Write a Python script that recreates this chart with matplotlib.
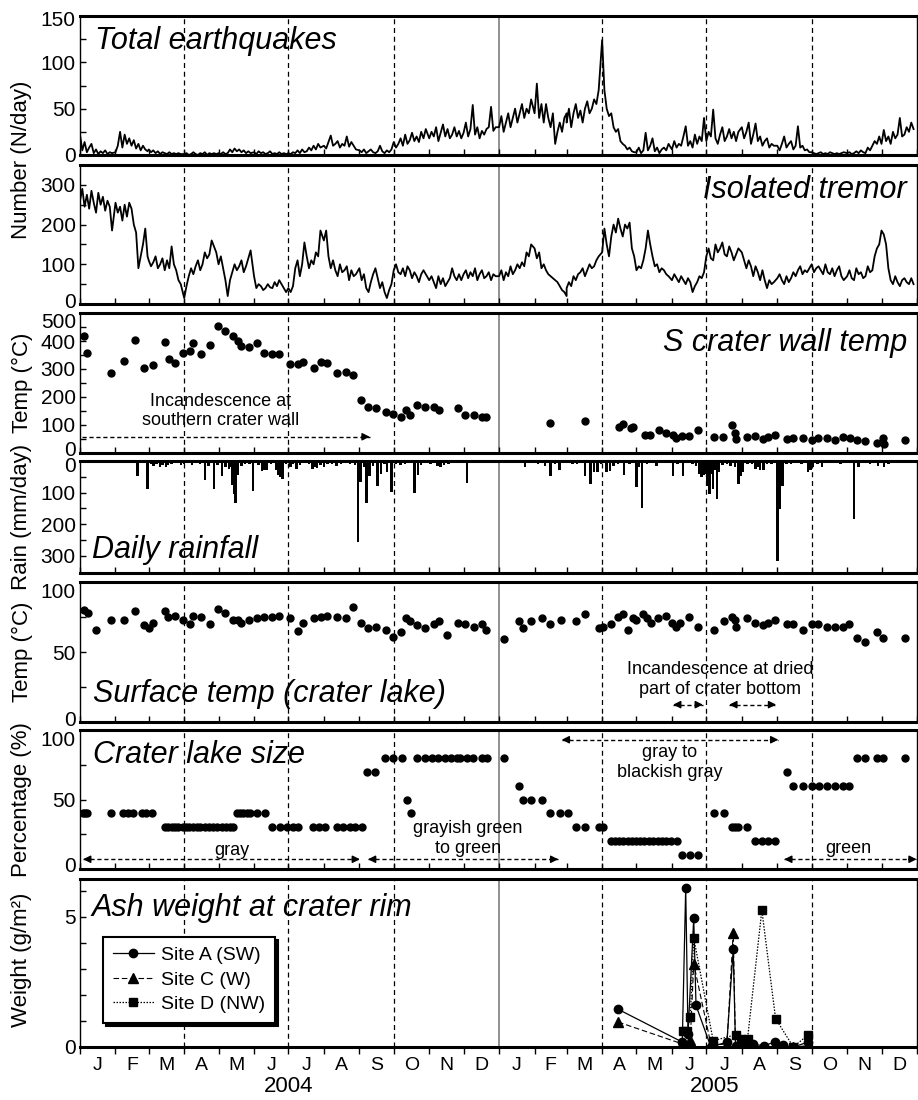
import numpy as np
import pandas as pd
import matplotlib
matplotlib.use('Agg')
import matplotlib.pyplot as plt
import matplotlib.transforms as mtransforms
from matplotlib.ticker import MultipleLocator, FixedLocator, FuncFormatter, NullFormatter

plt.rcParams['font.family'] = ['Liberation Sans', 'DejaVu Sans']

# ---------------- data (x values are days since 2004-01-01) ----------------
# Total earthquakes (N/day), 15 readings per month (every 2 days), Jan 2004 .. Dec 2005
eq_counts = [
    22, 5, 14, 3, 8, 12, 2, 6, 1, 4, 2, 5, 1, 3, 2,              # Jan 2004
    3, 10, 25, 8, 22, 12, 18, 10, 16, 7, 12, 5, 10, 6, 4,        # Feb
    6, 3, 5, 2, 4, 1, 3, 2, 1, 3, 1, 2, 1, 2, 1,                 # Mar
    1, 2, 0, 1, 3, 1, 0, 2, 1, 3, 0, 2, 1, 2, 1,                 # Apr
    2, 1, 3, 1, 2, 6, 3, 7, 4, 6, 3, 5, 2, 4, 2,                 # May
    3, 1, 4, 2, 3, 1, 2, 4, 1, 2, 1, 3, 1, 2, 1,                 # Jun
    2, 1, 3, 2, 5, 2, 6, 3, 4, 8, 5, 10, 6, 12, 8,               # Jul
    10, 7, 14, 21, 10, 12, 15, 8, 12, 10, 20, 9, 14, 10, 6,      # Aug
    5, 3, 6, 2, 4, 6, 3, 2, 4, 10, 4, 2, 5, 3, 6,                # Sep
    14, 8, 12, 18, 10, 22, 12, 16, 24, 15, 20, 14, 25, 18, 28,   # Oct
    18, 25, 20, 30, 15, 24, 33, 20, 28, 18, 22, 30, 20, 26, 18,  # Nov
    24, 35, 20, 28, 54, 22, 30, 18, 26, 22, 28, 30, 52, 26, 30,  # Dec
    30, 42, 25, 35, 45, 30, 40, 50, 35, 45, 55, 40, 50, 45, 60,  # Jan 2005
    45, 77, 40, 55, 35, 55, 40, 30, 45, 12, 25, 35, 25, 40, 45,  # Feb
    35, 50, 30, 45, 55, 40, 48, 35, 50, 58, 45, 50, 60, 55, 70,  # Mar
    124, 70, 50, 42, 45, 30, 25, 28, 15, 12, 10, 6, 8, 4, 3,     # Apr
    3, 8, 2, 5, 24, 5, 10, 18, 4, 8, 2, 6, 8, 5, 12,             # May
    6, 15, 8, 12, 10, 20, 31, 10, 15, 8, 22, 12, 20, 15, 40,     # Jun
    15, 25, 20, 49, 18, 12, 22, 30, 15, 20, 28, 18, 25, 15, 25,  # Jul
    30, 18, 25, 35, 12, 22, 34, 15, 20, 10, 15, 18, 8, 12, 10,   # Aug
    10, 5, 12, 20, 8, 12, 15, 6, 10, 31, 8, 10, 5, 6, 3,         # Sep
    3, 2, 1, 2, 3, 1, 2, 1, 3, 2, 1, 2, 1, 2, 3,                 # Oct
    2, 3, 1, 2, 4, 2, 5, 3, 2, 8, 5, 10, 15, 12, 20,             # Nov
    12, 27, 15, 20, 12, 25, 18, 22, 40, 20, 22, 30, 25, 35, 28,  # Dec
]

# Isolated tremor (N/day), same sampling
tremor_counts = [
    260, 290, 245, 275, 240, 285, 255, 230, 280, 250, 270, 235, 260, 245, 185,   # Jan 2004
    255, 230, 245, 210, 250, 220, 255, 240, 200, 180, 90, 120, 150, 190, 120,    # Feb
    110, 95, 105, 120, 90, 100, 115, 85, 110, 90, 145, 100, 85, 60, 50,          # Mar
    15, 45, 70, 90, 75, 95, 110, 85, 100, 130, 115, 125, 160, 145, 130,          # Apr
    100, 120, 90, 60, 20, 60, 80, 100, 85, 95, 110, 80, 95, 115, 135,            # May
    70, 40, 50, 45, 35, 40, 50, 42, 40, 55, 45, 60, 50, 40, 30,                  # Jun
    40, 30, 45, 90, 110, 70, 100, 155, 120, 90, 110, 100, 130, 120, 185,         # Jul
    160, 185, 120, 90, 110, 85, 70, 100, 80, 85, 95, 60, 85, 70, 75,             # Aug
    90, 60, 75, 40, 30, 55, 75, 90, 65, 40, 55, 30, 15, 35, 50,                  # Sep
    85, 100, 80, 75, 90, 70, 95, 85, 65, 80, 70, 55, 75, 85, 75,                 # Oct
    60, 70, 55, 40, 70, 50, 65, 45, 55, 65, 90, 70, 60, 75, 60,                  # Nov
    75, 85, 65, 80, 70, 90, 60, 75, 85, 65, 70, 80, 60, 75, 70,                  # Dec
    70, 85, 60, 80, 70, 95, 75, 85, 100, 90, 105, 95, 130, 120, 150,             # Jan 2005
    140, 115, 130, 90, 100, 85, 75, 70, 65, 60, 55, 45, 35, 30, 20,              # Feb
    40, 55, 45, 70, 60, 75, 80, 90, 70, 85, 100, 90, 95, 110, 120,               # Mar
    130, 190, 150, 120, 170, 200, 180, 215, 190, 170, 200, 190, 205, 140, 120,   # Apr
    85, 95, 90, 110, 140, 185, 150, 120, 95, 100, 80, 90, 85, 75, 70,            # May
    60, 75, 65, 55, 70, 60, 50, 65, 55, 30, 45, 55, 70, 65, 80,                  # Jun
    120, 140, 115, 110, 150, 130, 140, 155, 125, 120, 145, 130, 110, 125, 140,   # Jul
    130, 110, 90, 110, 95, 70, 95, 80, 60, 85, 60, 40, 60, 50, 55,               # Aug
    65, 75, 60, 50, 70, 55, 65, 80, 70, 85, 95, 75, 85, 80, 90,                  # Sep
    100, 80, 90, 95, 85, 75, 100, 80, 75, 90, 70, 85, 95, 70, 60,                # Oct
    70, 85, 65, 60, 90, 75, 80, 65, 70, 95, 80, 85, 120, 140, 150,               # Nov
    185, 175, 150, 90, 60, 50, 70, 55, 45, 60, 65, 55, 50, 65, 50,               # Dec
]

# S crater wall temperature
wall_day = [3.5, 6.4, 26.8, 38.7, 47.8, 55.6, 63.8, 74.6, 77.8, 82.7, 89.7, 96.1, 98.4, 106,
            113.3, 120.4, 127, 134, 137.8, 141, 148, 154.3, 161, 167.7, 174.1, 183.4, 190, 195,
            204.4, 210.7, 216, 224.8, 232, 238, 245.1, 251.8, 258.2, 267.3, 273.7, 280.6, 285,
            288, 294.4, 301.7, 309, 313.8, 329.8, 336, 344, 351.4, 355, 410.5, 441, 471, 474,
            481, 483, 493.4, 497.8, 506, 511.8, 517.6, 520.5, 525.5, 532.2, 540, 553.7, 561.9,
            569.2, 572, 572.7, 582.3, 589.5, 596.8, 601, 607, 617.2, 623, 631.7, 639, 644.8,
            652, 659.4, 666.6, 672.5, 678.3, 685.6, 695.8, 701, 702.2, 720.5]
wall_temp = [417, 357, 284, 329, 404, 302, 314, 396, 334, 320, 358, 364, 394, 352,
             387, 452, 434, 419, 401, 383, 377, 393, 357, 355, 355, 317, 319, 325,
             304, 325, 320, 284, 289, 280, 188, 164, 160, 148, 139, 127, 152,
             136, 171, 164, 164, 154, 160, 136, 134, 128, 128, 106, 114, 92, 104,
             88, 92, 64, 66, 82, 70, 64, 54, 61, 61, 82, 58, 58,
             100, 73, 49, 58, 60, 49, 58, 64, 49, 52, 52, 46, 52,
             52, 48, 58, 52, 48, 43, 34, 52, 31, 46]

# Daily rainfall (mm/day)
rain_day = [8, 10, 13, 16, 19, 22, 30, 33, 36, 50, 59, 62, 64, 67, 70, 72, 75, 77, 80, 84, 88,
            91, 94, 98, 102, 105, 109, 112, 117, 120, 124, 127, 130, 132, 133, 135, 136, 138,
            141, 144, 148, 151, 156, 159, 161, 163, 167, 171, 173, 175, 177, 180, 184, 186,
            189, 192, 196, 200, 203, 205, 207, 210, 213, 216, 220, 224, 228, 232, 236, 240,
            242.6, 245, 248, 250, 253, 256, 260, 263, 266, 268, 272, 276, 280, 284, 288, 292,
            295, 298, 302, 306, 312, 315, 318, 322, 326, 330, 338, 342, 348, 355, 360, 366,
            372, 380, 388.7, 395, 400, 406, 411, 415, 419, 425, 430, 434, 437, 441, 446, 449,
            452, 455, 460, 463, 466, 470, 475, 480, 486, 488, 491, 495, 499, 503.6, 508, 512,
            518, 522, 526.8, 530, 535, 538, 541, 542, 543, 544, 545, 546, 547, 548, 550, 551,
            553, 555, 556.5, 558, 561, 565, 568, 572, 575, 577, 579, 583, 587, 590, 592, 594,
            597, 600, 604, 609, 611, 612, 613.5, 617, 621, 626, 630, 636, 638, 640, 644, 648,
            652, 658, 664, 670, 676, 680, 685, 690, 697, 702, 706, 712, 718, 722, 727]
rain_mm = [5, 4, 6, 3, 4, 3, 3, 4, 3, 49, 89, 10, 15, 8, 18, 12, 20, 14, 10, 6, 12,
           8, 5, 14, 6, 8, 61, 15, 89, 12, 47, 20, 25, 18, 77, 105, 134, 43,
           15, 8, 10, 95, 12, 33, 28, 30, 8, 30, 45, 50, 56, 10, 20, 8,
           25, 12, 5, 10, 25, 18, 22, 12, 18, 10, 8, 15, 10, 6, 8, 12,
           257, 67, 20, 134, 48, 15, 80, 40, 10, 35, 98, 8, 12, 10, 5, 102,
           45, 12, 5, 8, 15, 20, 12, 8, 4, 5, 70, 3, 4, 3, 3, 2,
           5, 4, 20, 5, 8, 15, 47, 8, 30, 5, 8, 10, 6, 49, 73, 36,
           36, 10, 34, 31, 15, 10, 45, 8, 81, 20, 150, 10, 5, 16, 6, 5,
           47, 8, 49, 5, 10, 15, 40, 30, 50, 35, 45, 30, 40, 80, 105, 40,
           90, 30, 121, 36, 12, 10, 15, 20, 73, 47, 36, 10, 8, 25, 20, 30,
           28, 10, 8, 318, 153, 47, 80, 10, 8, 5, 8, 36, 30, 20, 10, 20,
           6, 5, 8, 6, 183, 20, 5, 8, 15, 20, 8, 5, 6, 5, 4]

# Surface temperature of crater lake
lake_temp_day = [3.5, 6.6, 13.6, 26.8, 38.7, 47.8, 55.6, 60.6, 63.8, 74.6, 77.2, 82.7, 89.7, 96.1,
                 98.4, 106, 113.3, 120.4, 127, 134, 137.8, 141, 148, 154.3, 161, 167.7, 174.1,
                 183.4, 190, 195, 204.4, 210.7, 216, 224.8, 232, 238, 245.1, 251.8, 258.2, 267.3,
                 273.7, 280.6, 285, 288, 294.4, 301.7, 309, 313.8, 320.8, 329.8, 336, 344, 351.4,
                 355, 370.3, 383.7, 386.6, 393.6, 403.2, 410.5, 419.8, 432.9, 441, 453.6, 456.5,
                 463.8, 470.2, 474, 478.4, 482.7, 485.6, 491.4, 494.9, 498.4, 505, 511.8, 516.7,
                 520.5, 524, 532.2, 540, 553.7, 562.4, 569.2, 572, 572.7, 582.8, 589.5, 596.8,
                 601, 607, 617.2, 623, 631.7, 639, 644.8, 652, 659.4, 666.6, 671.9, 678.3, 685.6,
                 695.8, 701.6, 720.5]
lake_temp = [80, 78, 66, 73, 73, 79, 69, 67, 71, 79, 75, 76, 73, 70,
             76, 75, 70, 81, 78, 73, 73, 71, 73, 74, 75, 75, 76,
             74, 65, 71, 74, 75, 76, 75, 74, 82, 71, 67, 68, 66,
             61, 64, 74, 72, 69, 67, 70, 72, 62, 71, 70, 68, 70,
             66, 59, 72, 67, 72, 74, 70, 73, 72, 77, 67, 68,
             70, 75, 77, 66, 74, 73, 77, 74, 71, 74, 76, 71,
             68, 71, 75, 68, 66, 72, 75, 73, 68, 74, 71, 69,
             71, 73, 70, 70, 66, 70, 70, 68, 68, 68, 70, 60, 57,
             64, 60, 60]

# Crater lake size (%)
lake_size_day = [2.9, 4.5, 5.8, 27, 37.6, 41.9, 46.3, 54, 57.6, 62.9,
                 74, 77, 80, 83, 86, 89.7, 92.5, 95.4, 98.9, 101.8, 104.7, 109, 112.8, 116.3,
                 119.8, 123.6, 127.4, 130.9, 133.8,
                 136.8, 139.7, 142.6, 145.5, 148.4, 154.3, 161.6,
                 167.4, 174.7, 181.1, 186.3, 190.7, 203.8, 209, 214, 224.2, 230, 235.8, 240.2, 246,
                 251, 258, 266.4, 273.7, 281, 285.3, 288.8,
                 294, 301, 307, 313, 319, 324, 329, 331.9, 337.7, 343.5, 350.8, 355.2, 370.6,
                 383.7, 386.6, 393.6, 403.8, 410.5, 419.2, 426.5, 432.9, 441, 453.6, 456.5,
                 463.8, 467.3, 471, 474.5, 478.3, 481.8, 485.6, 489, 492.8, 497.1, 500.6, 505,
                 508.7, 512.2, 516, 521.7, 525.5, 532.8, 540, 553.7, 562.5,
                 569.2, 572, 575, 582.8, 589.5, 595.3, 601.1, 607, 617.2,
                 622.4, 631.7, 639, 645.7, 652.6, 659.4, 666, 671.9,
                 678.3, 685.6, 695.8, 701.6, 720.5]
lake_size_pct = [40] * 10 + [30] * 19 + [40] * 7 + [30] * 13 + [70, 70, 80, 80, 80, 50, 40] + \
                [80] * 13 + [60, 50, 50, 50, 40, 40, 40, 30, 30, 30, 30] + [20] * 16 + \
                [10, 10, 10, 40, 40, 30, 30, 30, 30, 20, 20, 20, 20, 70] + [60] * 8 + [80] * 5

# Ash weight at crater rim (g/m2)
ash_a_day = [470, 526, 529, 531, 536, 538, 551, 565, 570.5, 572.5, 578, 583, 588, 597, 607, 614, 623, 636]
ash_a = [1.45, 0.19, 6.13, 0.5, 4.95, 1.6, 0.0, 0.19, 3.75, 0.02, 0.02, 0.05, 0.1, 0.05, 0.19, 0.06, 0.0, 0.19]
ash_c_day = [470, 526, 533, 536, 551, 565, 570.5, 572.5, 578, 583, 597, 623, 636]
ash_c = [0.96, 0.12, 0.28, 3.2, 0.1, 0.1, 4.4, 0.0, 0.0, 0.0, 0.0, 0.0, 0.05]
ash_d_day = [527, 530, 533, 536, 553, 572.5, 577.5, 583, 595.5, 607.5, 623, 636]
ash_d = [0.6, 0.6, 1.15, 4.2, 0.24, 0.47, 0.32, 0.32, 5.26, 1.09, 0.0, 0.47]
ash_labels = ['Site A (SW)', 'Site C (W)', 'Site D (NW)']

month_letters = ['J', 'F', 'M', 'A', 'M', 'J', 'J', 'A', 'S', 'O', 'N', 'D']
year_labels = ['2004', '2005']

# ---------------- calendar helpers ----------------
START = pd.Timestamp('2004-01-01')
month_starts = pd.date_range('2004-01-01', periods=25, freq='MS')
month_start_day = np.array([(m - START).days for m in month_starts], dtype=float)
mid_month_day = (month_start_day[:-1] + month_start_day[1:]) / 2.0
sample_day = np.array([month_start_day[i] + 2 * k for i in range(24) for k in range(15)])
quarter_days = [(pd.Timestamp(s) - START).days for s in
                ['2004-04-01', '2004-07-01', '2004-10-01', '2005-04-01', '2005-07-01', '2005-10-01']]
year_break = (pd.Timestamp('2005-01-01') - START).days
year_center = [(pd.Timestamp('2004-07-01') - START).days, (pd.Timestamp('2005-07-08') - START).days]
XMAX = month_start_day[-1]

# ---------------- figure / layout ----------------
W, H = 918, 1100
fig = plt.figure(figsize=(W / 100, H / 100), dpi=100)
panels_px = [(16, 155), (165, 304), (313, 453), (461, 573), (582, 722), (730, 869), (879, 1047)]
x0, x1 = 80, 917
axes = [fig.add_axes([x0 / W, 1 - b / H, (x1 - x0) / W, (b - t) / H]) for t, b in panels_px]


def style(ax, bottom=False):
    ax.set_xlim(0, XMAX)
    ax.spines['top'].set_linewidth(2.2)
    ax.spines['bottom'].set_linewidth(2.2)
    ax.spines['left'].set_linewidth(1.0)
    ax.spines['right'].set_linewidth(1.0)
    ax.xaxis.set_major_locator(FixedLocator(month_start_day))
    ax.xaxis.set_minor_locator(FixedLocator(mid_month_day))
    ax.xaxis.set_major_formatter(NullFormatter())
    if bottom:
        ax.tick_params(axis='x', which='major', direction='out', length=5, width=1)
        ax.xaxis.set_minor_formatter(FuncFormatter(lambda v, p: month_letters[p % 12] if p is not None else ''))
        ax.tick_params(axis='x', which='minor', length=0, labelsize=14, pad=7)
    else:
        ax.tick_params(axis='x', which='major', direction='in', length=4, width=1)
        ax.xaxis.set_minor_formatter(NullFormatter())
        ax.tick_params(axis='x', which='minor', length=0)
    ax.tick_params(axis='y', which='both', direction='in', length=4, width=1, labelsize=15, pad=3)
    for q in quarter_days:
        ax.axvline(q, color='k', lw=0.9, ls=(0, (4, 3)), zorder=0.5)
    ax.axvline(year_break, color='0.45', lw=1.1, zorder=0.5)


def title(ax, text, x, y, ha='left'):
    ax.text(x, y, text, transform=ax.transAxes, fontsize=22, style='italic', ha=ha, va='baseline')


def arrow(ax, xa, xb, y, left=False, right=True, head=7):
    ax.plot([xa, xb], [y, y], color='k', lw=1, ls=(0, (3, 2)), zorder=3)
    hp = dict(arrowstyle='-|>', color='k', lw=1, mutation_scale=11, shrinkA=0, shrinkB=0)
    if right:
        ax.annotate('', xy=(xb, y), xytext=(xb - head, y), arrowprops=hp)
    if left:
        ax.annotate('', xy=(xa, y), xytext=(xa + head, y), arrowprops=hp)


# Panel 1: total earthquakes
ax = axes[0]
style(ax)
ax.plot(sample_day, eq_counts, color='k', lw=1.3)
ax.set_ylim(0, 150)
ax.yaxis.set_major_locator(MultipleLocator(50))
ax.yaxis.set_minor_locator(MultipleLocator(25))
title(ax, 'Total earthquakes', 0.018, 0.76)

# Panel 2: isolated tremor
ax = axes[1]
style(ax)
ax.plot(sample_day, tremor_counts, color='k', lw=1.3)
ax.set_ylim(0, 350)
ax.yaxis.set_major_locator(MultipleLocator(100))
ax.yaxis.set_minor_locator(MultipleLocator(50))
title(ax, 'Isolated tremor', 0.988, 0.76, ha='right')

# Panel 3: S crater wall temp
ax = axes[2]
style(ax)
ax.plot(wall_day, wall_temp, 'o', color='k', ms=5)
ax.set_ylim(0, 500)
ax.yaxis.set_major_locator(MultipleLocator(100))
ax.yaxis.set_minor_locator(MultipleLocator(50))
title(ax, 'S crater wall temp', 0.988, 0.73, ha='right')
ax.text(123, 150, 'Incandescence at\nsouthern crater wall', fontsize=13, ha='center', va='center')
arrow(ax, 2, 253, 58, right=True)

# Panel 4: daily rainfall
ax = axes[3]
style(ax)
ax.bar(rain_day, rain_mm, width=2.2, color='k', align='center')
ax.set_ylim(355, 0)
ax.yaxis.set_major_locator(FixedLocator([0, 100, 200, 300]))
ax.yaxis.set_minor_locator(FixedLocator([50, 150, 250]))
title(ax, 'Daily rainfall', 0.014, 0.134)

# Panel 5: surface temp of crater lake
ax = axes[4]
style(ax)
ax.plot(lake_temp_day, lake_temp, 'o', color='k', ms=5)
ax.set_ylim(0, 100)
ax.yaxis.set_major_locator(MultipleLocator(50))
ax.yaxis.set_minor_locator(MultipleLocator(25))
title(ax, 'Surface temp (crater lake)', 0.016, 0.145)
ax.text(559, 30.5, 'Incandescence at dried\npart of crater bottom', fontsize=13, ha='center', va='center')
arrow(ax, 518, 544, 12.4, left=True, right=True, head=6)
arrow(ax, 567, 608, 12.4, left=True, right=True, head=6)

# Panel 6: crater lake size
ax = axes[5]
style(ax)
ax.plot(lake_size_day, lake_size_pct, 'o', color='k', ms=5)
ax.set_ylim(0, 100)
ax.yaxis.set_major_locator(MultipleLocator(50))
ax.yaxis.set_minor_locator(MultipleLocator(25))
title(ax, 'Crater lake size', 0.016, 0.76)
ax.text(133, 13.6, 'gray', fontsize=13, ha='center', va='center')
arrow(ax, 2.7, 244.5, 7, left=True, right=True)
ax.text(339, 22, 'grayish green\nto green', fontsize=13, ha='center', va='center')
arrow(ax, 251.5, 417.7, 7, left=True, right=True)
ax.text(515, 76.8, 'gray to\nblackish gray', fontsize=13, ha='center', va='center')
arrow(ax, 420.7, 609.9, 93, left=True, right=True)
ax.text(671, 14.8, 'green', fontsize=13, ha='center', va='center')
arrow(ax, 615, 730.7, 7, left=True, right=True)

# Panel 7: ash weight
ax = axes[6]
style(ax, bottom=True)
ax.plot(ash_a_day, ash_a, '-o', color='k', lw=0.9, ms=6, label=ash_labels[0])
ax.plot(ash_c_day, ash_c, marker='^', ls=(0, (5, 2.5)), color='k', lw=0.8, ms=6.5, label=ash_labels[1])
ax.plot(ash_d_day, ash_d, marker='s', ls=(0, (1.2, 1.2)), color='k', lw=0.9, ms=5.5, label=ash_labels[2])
ax.set_ylim(0, 6.46)
ax.yaxis.set_major_locator(MultipleLocator(5))
ax.yaxis.set_minor_locator(MultipleLocator(1))
title(ax, 'Ash weight at crater rim', 0.014, 0.78)
leg_kw = dict(loc='upper left', bbox_to_anchor=(0.0275, 0.655), fontsize=14, fancybox=False,
              edgecolor='k', framealpha=1, handlelength=2.1, labelspacing=0.35,
              borderaxespad=0, handletextpad=0.4, borderpad=0.5)
try:
    leg = ax.legend(shadow={'color': 'k', 'alpha': 1}, **leg_kw)
except Exception:
    leg = ax.legend(shadow=True, **leg_kw)
leg.get_frame().set_linewidth(1.5)
leg.set_zorder(10)
for yc, lab in zip(year_center, year_labels):
    ax.text(yc, -0.238, lab, transform=ax.get_xaxis_transform(), fontsize=16, ha='center', va='center')

# y-axis labels
ylabels = [('Number (N/day)', 160), ('Temp (°C)', 383), ('Rain (mm/day)', 517),
           ('Temp (°C)', 652), ('Percentage (%)', 800), ('Weight (g/m²)', 960)]
for txt, yc in ylabels:
    fig.text(22 / W, 1 - yc / H, txt, rotation=90, fontsize=16, ha='center', va='center')

# nudge the end tick labels off the panel edges (as in the original layout)
label_shifts = {0: {150: -2}, 1: {0: 4}, 2: {500: -7, 0: 5}, 3: {0: -4},
                4: {100: -8, 0: 3}, 5: {100: -9, 0: 4}}
fig.canvas.draw()
for i, shifts in label_shifts.items():
    for tick in axes[i].yaxis.get_major_ticks():
        for val, dy in shifts.items():
            if np.isclose(tick.get_loc(), val):
                off = mtransforms.ScaledTranslation(0, dy / 100, fig.dpi_scale_trans)
                tick.label1.set_transform(tick.label1.get_transform() + off)

fig.savefig('out.png', dpi=100)
